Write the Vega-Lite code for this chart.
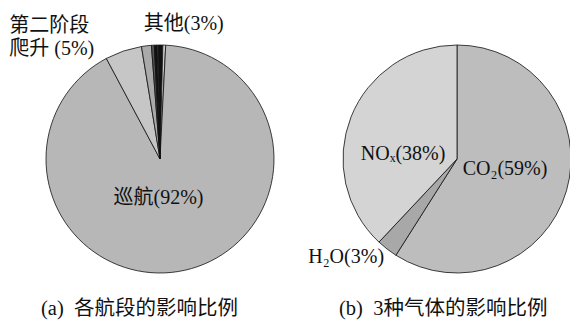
{
  "$schema": "https://vega.github.io/schema/vega-lite/v6.json",
  "padding": 0,
  "background": "white",
  "spacing": 24,
  "bounds": "flush",
  "resolve": {"scale": {"color": "independent", "theta": "independent"}},
  "config": {
    "view": {"stroke": null},
    "text": {"font": "Liberation Serif, Noto Sans CJK SC", "fontSize": 20, "color": "#111"},
    "title": {"font": "Liberation Serif, Noto Sans CJK SC", "fontSize": 20.5, "fontWeight": "normal", "color": "#111", "offset": 0, "frame": "group"}
  },
  "hconcat": [
    {
      "width": 320,
      "height": 318,
      "title": {"text": "(a)\u00a0\u00a0各航段的影响比例", "orient": "bottom", "anchor": "start", "dx": 41, "dy": -23},
      "data": {"values": [
        {"ord": 1, "name": "其他1", "value": 0.4, "label": "其他(3%)"},
        {"ord": 2, "name": "其他2", "value": 0.4, "label": ""},
        {"ord": 3, "name": "巡航", "value": 91.4, "label": "巡航(92%)"},
        {"ord": 4, "name": "第二阶段爬升", "value": 5.2, "label": "第二阶段\n爬升 (5%)"},
        {"ord": 5, "name": "其他3", "value": 1.4, "label": ""},
        {"ord": 6, "name": "其他4", "value": 0.4, "label": ""},
        {"ord": 7, "name": "其他5", "value": 0.4, "label": ""},
        {"ord": 8, "name": "其他6", "value": 0.2, "label": ""},
        {"ord": 9, "name": "其他7", "value": 0.2, "label": ""}
      ]},
      "encoding": {
        "theta": {"field": "value", "type": "quantitative", "stack": true},
        "order": {"field": "ord", "type": "quantitative"}
      },
      "layer": [
        {
          "mark": {"type": "arc", "outerRadius": 114, "stroke": "#111", "strokeWidth": 0.8},
          "encoding": {
            "color": {"field": "name", "type": "nominal", "legend": null,
              "scale": {"domain": ["其他1", "其他2", "巡航", "第二阶段爬升", "其他3", "其他4", "其他5", "其他6", "其他7"],
                        "range": ["#111111", "#cccccc", "#b7b7b7", "#c6c6c6", "#aaaaaa", "#555555", "#111111", "#444444", "#111111"]}}
          }
        },
        {
          "mark": {"type": "text", "radius": 39, "dx": -10, "dy": 1},
          "encoding": {"text": {"condition": {"test": "datum.name === '巡航'", "field": "label"}, "value": ""}}
        },
        {
          "mark": {"type": "text", "radius": 136, "dx": 22, "dy": 1},
          "encoding": {"text": {"condition": {"test": "datum.name === '其他1'", "field": "label"}, "value": ""}}
        },
        {
          "mark": {"type": "text", "radius": 130, "dx": -109, "dy": -10, "align": "left", "lineBreak": "\n", "lineHeight": 23},
          "encoding": {"text": {"condition": {"test": "datum.name === '第二阶段爬升'", "field": "label"}, "value": ""}}
        }
      ]
    },
    {
      "width": 226,
      "height": 318,
      "title": {"text": "(b)\u00a0\u00a03种气体的影响比例", "orient": "bottom", "anchor": "start", "dx": -5, "dy": -23},
      "data": {"values": [
        {"ord": 1, "name": "CO2", "value": 59, "label": "CO₂(59%)"},
        {"ord": 2, "name": "H2O", "value": 3, "label": "H₂O(3%)"},
        {"ord": 3, "name": "NOx", "value": 38, "label": "NOₓ(38%)"}
      ]},
      "encoding": {
        "theta": {"field": "value", "type": "quantitative", "stack": true},
        "order": {"field": "ord", "type": "quantitative"}
      },
      "layer": [
        {
          "mark": {"type": "arc", "outerRadius": 114, "stroke": "#111", "strokeWidth": 0.8},
          "encoding": {
            "color": {"field": "name", "type": "nominal", "legend": null,
              "scale": {"domain": ["CO2", "H2O", "NOx"], "range": ["#bdbdbd", "#a8a8a8", "#d4d4d4"]}}
          }
        },
        {
          "mark": {"type": "text", "radius": 50, "dy": -4},
          "encoding": {"text": {"condition": {"test": "datum.name === 'CO2'", "field": "label"}, "value": ""}}
        },
        {
          "mark": {"type": "text", "radius": 58, "dy": 16},
          "encoding": {"text": {"condition": {"test": "datum.name === 'NOx'", "field": "label"}, "value": ""}}
        },
        {
          "mark": {"type": "text", "radius": 145, "dx": -22, "dy": -17},
          "encoding": {"text": {"condition": {"test": "datum.name === 'H2O'", "field": "label"}, "value": ""}}
        }
      ]
    }
  ]
}
